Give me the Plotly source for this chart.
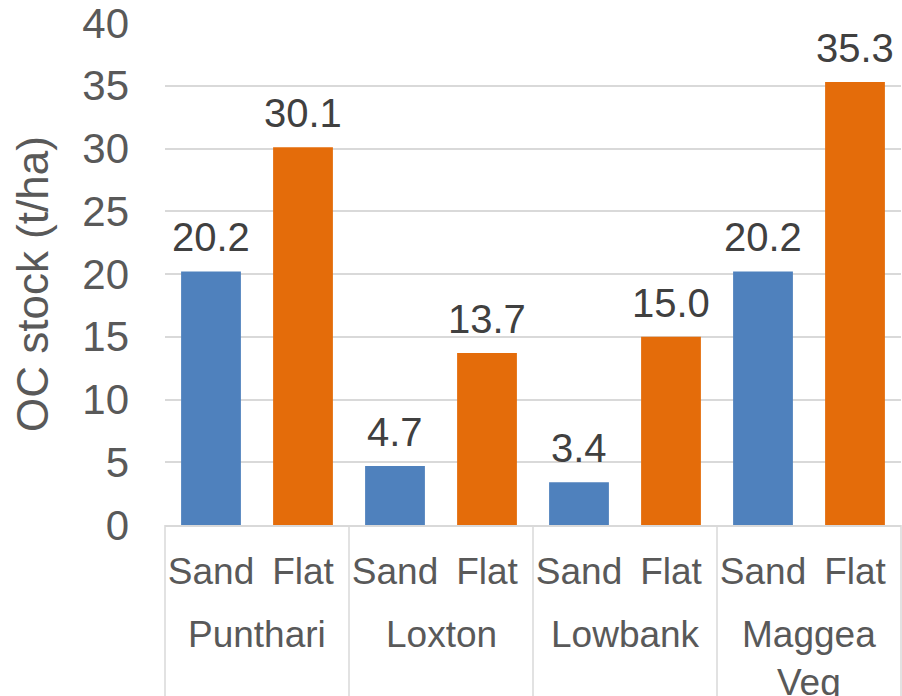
import plotly.graph_objects as go

# Sites, soil positions and organic carbon stocks (t/ha)
sites = ["Punthari", "Loxton", "Lowbank", "Maggea<br>Veg"]
positions = ["Sand", "Flat"]
sand_stock = [20.2, 4.7, 3.4, 20.2]
flat_stock = [30.1, 13.7, 15.0, 35.3]
y_ticks = [0, 5, 10, 15, 20, 25, 30, 35, 40]

colors = {"Sand": "#4F81BD", "Flat": "#E46C0A"}
stocks = {"Sand": sand_stock, "Flat": flat_stock}
FONT = "Liberation Sans, Arial, sans-serif"
TICK_GREY = "#595959"
LABEL_GREY = "#404040"
GRID = "#D9D9D9"

n_pos = len(positions)
fig = go.Figure()

for j, pos in enumerate(positions):
    xs = [i * n_pos + j for i in range(len(sites))]
    fig.add_trace(go.Bar(
        x=xs, y=stocks[pos], name=pos, width=0.65,
        marker=dict(color=colors[pos], line=dict(color=colors[pos], width=0)),
        showlegend=False,
    ))
    for x, v in zip(xs, stocks[pos]):
        fig.add_annotation(
            x=x, y=v, xref="x", yref="y", text=f"{v:.1f}", showarrow=False,
            yanchor="bottom", yshift=10,
            font=dict(family=FONT, size=40, color=LABEL_GREY),
        )

# sub-category tick values and labels
tickvals = [i * n_pos + j for i in range(len(sites)) for j in range(n_pos)]
ticktext = [positions[j] for i in range(len(sites)) for j in range(n_pos)]

# site labels under the position labels
for i, s in enumerate(sites):
    fig.add_annotation(
        x=i * n_pos + (n_pos - 1) / 2, y=0, xref="x", yref="paper",
        text=s, showarrow=False, yanchor="top", yshift=-87,
        font=dict(family=FONT, size=37, color=TICK_GREY),
    )

# group dividers below the axis
for i in range(len(sites) + 1):
    fig.add_shape(
        type="line", xref="paper", yref="paper",
        x0=i / len(sites), x1=i / len(sites), y0=0, y1=-0.4,
        line=dict(color=GRID, width=1.5),
    )

# y-axis title
fig.add_annotation(
    x=0, y=0.480, xref="paper", yref="paper", xshift=-133,
    xanchor="center", yanchor="middle",
    text="OC stock (t/ha)", showarrow=False, textangle=-90,
    font=dict(family=FONT, size=44, color=TICK_GREY),
)

fig.update_layout(
    width=902, height=696,
    margin=dict(l=165, r=1, t=23, b=171),
    paper_bgcolor="white", plot_bgcolor="white",
    barmode="overlay",
    font=dict(family=FONT, color=TICK_GREY),
)
fig.update_xaxes(
    range=[-0.5, len(sites) * n_pos - 0.5],
    tickmode="array", tickvals=tickvals, ticktext=ticktext,
    tickfont=dict(family=FONT, size=37, color=TICK_GREY),
    showgrid=False, showline=True, linecolor=GRID, linewidth=1.5,
    ticks="", ticklabelstandoff=13, zeroline=False,
)
fig.update_yaxes(
    range=[0, 40], tickmode="array", tickvals=y_ticks,
    tickfont=dict(family=FONT, size=42, color=TICK_GREY),
    showgrid=True, gridcolor=GRID, gridwidth=1.5,
    zeroline=False, showline=False, ticks="", ticklabelstandoff=35,
    ticklabeloverflow="allow",
)

fig.write_html("out.html")
